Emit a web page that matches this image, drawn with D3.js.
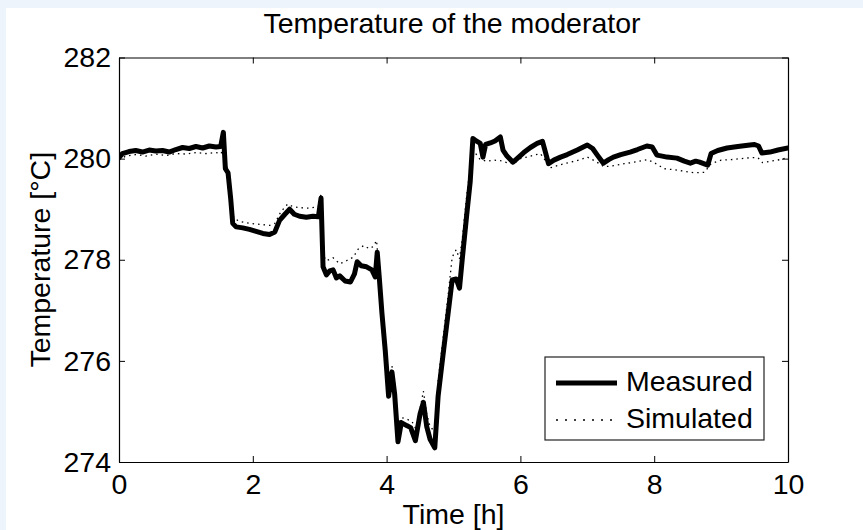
<!DOCTYPE html>
<html lang="en">
<head>
  <meta charset="UTF-8">
  <title>Temperature of the moderator</title>
  <script src="https://d3js.org/d3.v7.min.js"></script>
  <style>
    body { margin: 0; background: #edf4fb; }
    svg { display: block; }
    text { font-family: "Liberation Sans", Arial, sans-serif; fill: #000; }
    .axis path, .axis line { stroke: #000; }
  </style>
</head>
<body>
<svg id="chart" width="863" height="530"></svg>
<script>
  // tick values
  const xTicks = [0, 2, 4, 6, 8, 10];
  const yTicks = [274, 276, 278, 280, 282];

  // measured temperature (time in h, temperature in degC)
  const measuredTime = [0.00, 0.05, 0.15, 0.25, 0.35, 0.45, 0.55, 0.65, 0.75, 0.85, 0.95, 1.05, 1.15, 1.25, 1.35, 1.45, 1.52, 1.56, 1.59, 1.63,
    1.67, 1.70, 1.75, 1.85, 1.95, 2.05, 2.15, 2.25, 2.33, 2.40, 2.48, 2.55, 2.62, 2.70, 2.80, 2.90, 2.98, 3.02, 3.05, 3.10,
    3.15, 3.20, 3.25, 3.30, 3.38, 3.46, 3.52, 3.56, 3.62, 3.70, 3.78, 3.83, 3.86, 3.89, 3.93, 3.98, 4.03, 4.08, 4.12, 4.17,
    4.22, 4.30, 4.36, 4.43, 4.50, 4.55, 4.60, 4.65, 4.72, 4.77, 4.84, 4.92, 4.98, 5.04, 5.09, 5.13, 5.20, 5.25, 5.29, 5.34,
    5.40, 5.44, 5.48, 5.55, 5.62, 5.70, 5.74, 5.80, 5.89, 5.95, 6.05, 6.15, 6.25, 6.33, 6.38, 6.42, 6.50, 6.60, 6.70, 6.85,
    7.00, 7.08, 7.15, 7.24, 7.32, 7.39, 7.50, 7.64, 7.75, 7.89, 7.97, 8.04, 8.12, 8.19, 8.34, 8.45, 8.54, 8.62, 8.68, 8.80,
    8.85, 8.95, 9.09, 9.25, 9.43, 9.50, 9.56, 9.61, 9.73, 9.85, 10.00];
  const measuredTemp = [280.02, 280.10, 280.14, 280.16, 280.13, 280.17, 280.15, 280.16, 280.13, 280.18, 280.22, 280.20, 280.24, 280.21, 280.25, 280.23, 280.24, 280.52, 279.80, 279.72,
    279.20, 278.72, 278.65, 278.63, 278.60, 278.56, 278.52, 278.50, 278.55, 278.78, 278.90, 279.00, 278.90, 278.86, 278.84, 278.86, 278.85, 279.22, 277.86, 277.70,
    277.78, 277.80, 277.64, 277.68, 277.58, 277.56, 277.72, 277.96, 277.88, 277.86, 277.80, 277.66, 278.15, 277.66, 276.95, 276.20, 275.30, 275.78, 275.35, 274.40,
    274.78, 274.72, 274.68, 274.42, 274.95, 275.18, 274.70, 274.45, 274.28, 275.30, 276.08, 276.95, 277.60, 277.62, 277.44, 278.00, 278.92, 279.55, 280.40, 280.35,
    280.30, 280.03, 280.28, 280.31, 280.35, 280.43, 280.17, 280.05, 279.93, 280.00, 280.12, 280.22, 280.30, 280.34, 280.10, 279.90, 279.97, 280.03, 280.08, 280.17,
    280.27, 280.20, 280.07, 279.91, 279.98, 280.03, 280.08, 280.13, 280.18, 280.25, 280.23, 280.07, 280.05, 280.03, 280.01, 279.95, 279.91, 279.95, 279.93, 279.87,
    280.10, 280.16, 280.21, 280.24, 280.27, 280.28, 280.25, 280.11, 280.13, 280.17, 280.21];

  // simulated temperature
  const simulatedTime = [0.00, 0.10, 0.25, 0.40, 0.55, 0.70, 0.85, 1.00, 1.15, 1.30, 1.45, 1.53, 1.56, 1.59, 1.63, 1.68, 1.72, 1.80, 1.95, 2.10,
    2.25, 2.33, 2.42, 2.52, 2.60, 2.70, 2.85, 2.98, 3.02, 3.05, 3.10, 3.20, 3.30, 3.40, 3.50, 3.58, 3.66, 3.74, 3.80, 3.85,
    3.89, 3.93, 3.98, 4.03, 4.08, 4.12, 4.17, 4.22, 4.30, 4.38, 4.45, 4.50, 4.55, 4.60, 4.65, 4.72, 4.77, 4.84, 4.92, 4.98,
    5.04, 5.09, 5.13, 5.20, 5.27, 5.32, 5.40, 5.50, 5.60, 5.70, 5.80, 5.90, 6.00, 6.15, 6.30, 6.38, 6.45, 6.60, 6.75, 6.90,
    7.00, 7.12, 7.25, 7.40, 7.55, 7.70, 7.90, 8.00, 8.15, 8.30, 8.45, 8.60, 8.75, 8.85, 9.00, 9.15, 9.30, 9.45, 9.55, 9.62,
    9.75, 9.88, 10.00];
  const simulatedTemp = [279.98, 280.05, 280.08, 280.05, 280.09, 280.06, 280.10, 280.09, 280.12, 280.10, 280.12, 280.10, 280.40, 279.95, 279.75, 279.00, 278.82, 278.76, 278.72, 278.70,
    278.68, 278.72, 278.95, 279.10, 279.05, 279.03, 279.02, 279.05, 279.30, 278.10, 277.98, 278.04, 277.92, 277.98, 278.05, 278.22, 278.28, 278.22, 278.26, 278.38,
    277.75, 277.10, 276.35, 275.55, 275.90, 275.55, 274.70, 274.88, 274.85, 274.80, 274.62, 275.05, 275.40, 274.95, 274.70, 274.60, 275.60, 276.40, 277.30, 278.05,
    278.20, 278.02, 278.40, 279.30, 280.05, 280.12, 279.98, 279.95, 279.97, 279.96, 279.92, 279.90, 280.00, 280.05, 280.10, 279.95, 279.82, 279.88, 279.93, 279.98,
    280.03, 279.95, 279.84, 279.86, 279.90, 279.93, 279.98, 279.92, 279.80, 279.78, 279.75, 279.72, 279.73, 279.90, 279.97, 279.98, 280.00, 280.02, 280.02, 279.92,
    279.95, 279.98, 280.02];

  const seriesNames = ["Measured", "Simulated"];

  const svg = d3.select("#chart");
  const W = 863, H = 530;
  const plot = { left: 119, right: 788, top: 57.5, bottom: 462 };

  // white figure area
  svg.append("rect")
    .attr("x", 6).attr("y", 8)
    .attr("width", W - 6).attr("height", H - 8)
    .attr("fill", "#fff");

  const x = d3.scaleLinear().domain([0, 10]).range([plot.left, plot.right]);
  const y = d3.scaleLinear().domain([274, 282]).range([plot.bottom, plot.top]);

  svg.append("defs").append("clipPath").attr("id", "clip")
    .append("rect")
    .attr("x", plot.left).attr("y", plot.top)
    .attr("width", plot.right - plot.left).attr("height", plot.bottom - plot.top);

  const line = d3.line()
    .x(d => x(d[0]))
    .y(d => y(d[1]));

  const measured = measuredTime.map((t, i) => [t, measuredTemp[i]]);
  const simulated = simulatedTime.map((t, i) => [t, simulatedTemp[i]]);

  const lines = svg.append("g").attr("clip-path", "url(#clip)");

  lines.append("path")
    .datum(measured)
    .attr("d", line)
    .attr("fill", "none")
    .attr("stroke", "#000")
    .attr("stroke-width", 5)
    .attr("stroke-linejoin", "round")
    .attr("stroke-linecap", "round");

  lines.append("path")
    .datum(simulated)
    .attr("d", line)
    .attr("fill", "none")
    .attr("stroke", "#000")
    .attr("stroke-width", 1.3)
    .attr("stroke-dasharray", "1.5,4");

  // axes, ticks pointing inward, mirrored on top and right
  const fontSize = 28.5;

  const xAxis = svg.append("g")
    .attr("class", "axis")
    .attr("transform", `translate(0,${plot.bottom})`)
    .call(d3.axisBottom(x).tickValues(xTicks).tickSizeInner(-6).tickSizeOuter(0).tickPadding(12));
  xAxis.selectAll("text").attr("font-size", fontSize).attr("font-family", "Liberation Sans, Arial, sans-serif");

  svg.append("g")
    .attr("class", "axis")
    .attr("transform", `translate(0,${plot.top})`)
    .call(d3.axisTop(x).tickValues(xTicks).tickSizeInner(-6).tickSizeOuter(0).tickFormat(""));

  const yAxis = svg.append("g")
    .attr("class", "axis")
    .attr("transform", `translate(${plot.left},0)`)
    .call(d3.axisLeft(y).tickValues(yTicks).tickSizeInner(-6).tickSizeOuter(0).tickPadding(8));
  yAxis.selectAll("text").attr("font-size", fontSize).attr("font-family", "Liberation Sans, Arial, sans-serif");

  svg.append("g")
    .attr("class", "axis")
    .attr("transform", `translate(${plot.right},0)`)
    .call(d3.axisRight(y).tickValues(yTicks).tickSizeInner(-6).tickSizeOuter(0).tickFormat(""));

  svg.selectAll(".axis .domain").attr("stroke-width", 1.2);

  // title and axis labels
  svg.append("text")
    .attr("x", 452)
    .attr("y", 33)
    .attr("text-anchor", "middle")
    .attr("font-size", fontSize)
    .text("Temperature of the moderator");

  svg.append("text")
    .attr("x", (plot.left + plot.right) / 2)
    .attr("y", 524)
    .attr("text-anchor", "middle")
    .attr("font-size", fontSize)
    .text("Time [h]");

  svg.append("text")
    .attr("transform", `translate(50,${(plot.top + plot.bottom) / 2}) rotate(-90)`)
    .attr("text-anchor", "middle")
    .attr("font-size", fontSize)
    .text("Temperature [°C]");

  // legend
  const legend = svg.append("g");
  legend.append("rect")
    .attr("x", 545).attr("y", 357)
    .attr("width", 219).attr("height", 83)
    .attr("fill", "#fff")
    .attr("stroke", "#222")
    .attr("stroke-width", 1.2);

  const legendRows = [
    { name: seriesNames[0], y: 383, width: 5, dash: null },
    { name: seriesNames[1], y: 420, width: 1.5, dash: "2,7" }
  ];
  legendRows.forEach(r => {
    legend.append("line")
      .attr("x1", 556).attr("x2", 617)
      .attr("y1", r.y).attr("y2", r.y)
      .attr("stroke", "#000")
      .attr("stroke-width", r.width)
      .attr("stroke-dasharray", r.dash);
    legend.append("text")
      .attr("x", 626).attr("y", r.y + 8)
      .attr("font-size", fontSize)
      .text(r.name);
  });
</script>
</body>
</html>
